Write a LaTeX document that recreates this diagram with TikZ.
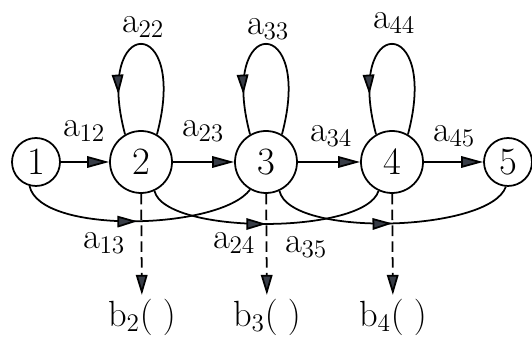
\documentclass[tikz,border=0pt]{standalone}
\usepackage{tikz}
\usetikzlibrary{arrows.meta,positioning,calc,decorations.markings}
\definecolor{tipgray}{RGB}{55,60,70}

\begin{document}
\begin{tikzpicture}[x=0.02cm, y=-0.02cm,
    state/.style={circle, draw, line width=1pt, minimum size=1.24cm, inner sep=0pt, font=\fontsize{22}{26}\selectfont},
    endstate/.style={state, minimum size=0.96cm},
    trans/.style={line width=1pt, -{Triangle[length=4.4mm, width=2.3mm, fill=tipgray]}},
    midarrow/.style={line width=1pt, postaction={decorate}, decoration={markings,
        mark=at position #1 with {\arrow{Triangle[length=4mm, width=2.3mm, fill=tipgray]}}}},
    emit/.style={line width=1pt, dash pattern=on 6pt off 3pt, -{Triangle[length=4mm, width=2.3mm, fill=tipgray]}, shorten >=1pt},
    tlabel/.style={font=\fontsize{21}{24}\selectfont, inner sep=1pt},
    outlabel/.style={font=\fontsize{21}{24}\selectfont, inner sep=1pt}
]
    \useasboundingbox (0,0) rectangle (532,337);

    % States
    \node[endstate] (s1) at (36,162) {1};
    \node[state] (s2) at (141,162) {2};
    \node[state] (s3) at (266,162) {3};
    \node[state] (s4) at (392,162) {4};
    \node[endstate] (s5) at (508,162) {5};

    % Output symbols
    \node[outlabel] (b2) at (142,317) {$\mathrm{b}_2(\;)$};
    \node[outlabel] (b3) at (267,317) {$\mathrm{b}_3(\;)$};
    \node[outlabel] (b4) at (393,317) {$\mathrm{b}_4(\;)$};

    % Forward transitions
    \draw[trans] (s1) -- (s2);
    \draw[trans] (s2) -- (s3);
    \draw[trans] (s3) -- (s4);
    \draw[trans] (s4) -- (s5);

    % Self loops
    \draw[midarrow=0.8] (s2.60) .. controls +(75:2.5cm) and +(105:2.5cm) .. (s2.120);
    \draw[midarrow=0.8] (s3.60) .. controls +(75:2.5cm) and +(105:2.5cm) .. (s3.120);
    \draw[midarrow=0.8] (s4.60) .. controls +(75:2.5cm) and +(105:2.5cm) .. (s4.120);

    % Skip transitions
    \draw[midarrow=0.5] (s1.-105) .. controls (40,235) and (220,230) .. (s3.-120);
    \draw[midarrow=0.5] (s2.-65) .. controls (165,235) and (365,235) .. (s4.-115);
    \draw[midarrow=0.5] (s3.-65) .. controls (290,238) and (490,232) .. (s5.-95);

    % Emissions
    \draw[emit] (s2) -- (b2);
    \draw[emit] (s3) -- (b3);
    \draw[emit] (s4) -- (b4);

    % Transition labels
    \node[tlabel] (l12) at (84,131) {$\mathrm{a}_{12}$};
    \node[tlabel] (l23) at (203,131) {$\mathrm{a}_{23}$};
    \node[tlabel] (l34) at (331,136) {$\mathrm{a}_{34}$};
    \node[tlabel] (l45) at (454,136) {$\mathrm{a}_{45}$};
    \node[tlabel] (l22) at (143,27) {$\mathrm{a}_{22}$};
    \node[tlabel] (l33) at (268,29) {$\mathrm{a}_{33}$};
    \node[tlabel] (l44) at (394,23) {$\mathrm{a}_{44}$};
    \node[tlabel] (l13) at (104,243) {$\mathrm{a}_{13}$};
    \node[tlabel] (l24) at (234,243) {$\mathrm{a}_{24}$};
    \node[tlabel] (l35) at (306,247) {$\mathrm{a}_{35}$};
\end{tikzpicture}
\end{document}
